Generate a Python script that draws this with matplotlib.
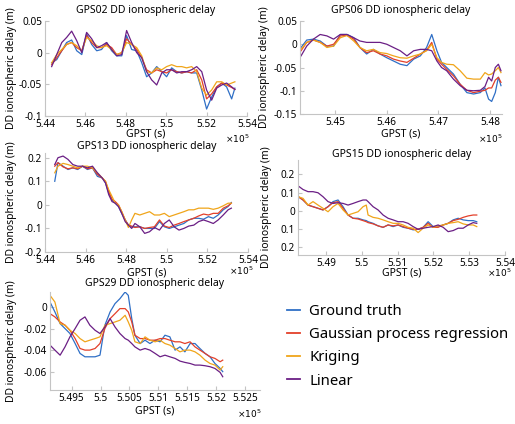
import matplotlib.pyplot as plt
from matplotlib.lines import Line2D

plt.rcParams['font.family'] = ['Noto Sans', 'DejaVu Sans']

# ---- data (GPST in s, DD ionospheric delay in m) ----
names = ['Ground truth', 'Gaussian process regression', 'Kriging', 'Linear']
colors = ['#2F6FC6', '#E3402A', '#F0A51A', '#6B1F85']

# GPS02
t02 = [544330, 544580, 544830, 545070, 545320, 545570, 545820, 546060, 546310, 546560,
       546800, 547050, 547300, 547550, 547800, 548040, 548290, 548540, 548790, 549030,
       549280, 549530, 549780, 550020, 550270, 550520, 550770, 551010, 551260, 551510,
       551760, 552000, 552250, 552500, 552750, 552990, 553240, 553400]
gt02 = [-0.016, -0.011, 0.003, 0.016, 0.020, 0.003, -0.003, 0.030, 0.013, 0.003,
        0.005, 0.016, 0.003, -0.005, -0.005, 0.027, 0.005, 0.003, -0.016, -0.038,
        -0.032, -0.022, -0.030, -0.038, -0.024, -0.030, -0.032, -0.030, -0.032, -0.032,
        -0.059, -0.089, -0.070, -0.054, -0.048, -0.054, -0.073, -0.056]
gpr02 = [-0.019, -0.008, 0.003, 0.013, 0.016, 0.008, 0.003, 0.027, 0.016, 0.008,
         0.008, 0.013, 0.008, -0.003, 0.000, 0.022, 0.013, 0.005, -0.008, -0.027,
         -0.032, -0.027, -0.030, -0.032, -0.027, -0.030, -0.032, -0.030, -0.032, -0.027,
         -0.043, -0.073, -0.065, -0.054, -0.048, -0.051, -0.055, -0.058]
kr02 = [-0.016, -0.003, 0.005, 0.013, 0.016, 0.011, 0.003, 0.024, 0.019, 0.011,
        0.008, 0.011, 0.005, -0.003, 0.000, 0.016, 0.013, 0.008, -0.005, -0.030,
        -0.032, -0.024, -0.027, -0.022, -0.019, -0.022, -0.022, -0.024, -0.022, -0.030,
        -0.056, -0.067, -0.059, -0.046, -0.046, -0.051, -0.048, -0.046]
lin02 = [-0.022, -0.003, 0.016, 0.024, 0.034, 0.019, 0.000, 0.032, 0.022, 0.008,
         0.011, 0.016, 0.005, -0.005, -0.003, 0.035, 0.016, 0.000, -0.008, -0.030,
         -0.043, -0.051, -0.032, -0.027, -0.027, -0.032, -0.030, -0.030, -0.027, -0.022,
         -0.030, -0.059, -0.075, -0.056, -0.051, -0.048, -0.054, -0.058]

# GPS06
t06 = [544340, 544450, 544580, 544710, 544840, 544970, 545100, 545230, 545360, 545480,
       545610, 545740, 545870, 546000, 546130, 546260, 546390, 546520, 546650, 546770,
       546870, 546970, 547060, 547160, 547290, 547420, 547550, 547680, 547810, 547900,
       547970, 548030, 548100, 548160, 548210]
gt06 = [-0.007, 0.009, 0.011, 0.007, -0.004, -0.004, 0.021, 0.021, 0.014, -0.007,
        -0.021, -0.011, -0.021, -0.029, -0.036, -0.043, -0.046, -0.032, -0.025, -0.007,
        0.021, -0.014, -0.039, -0.050, -0.064, -0.086, -0.104, -0.107, -0.104, -0.094,
        -0.118, -0.123, -0.104, -0.071, -0.089]
gpr06 = [-0.014, 0.004, 0.009, 0.004, -0.004, 0.000, 0.018, 0.019, 0.011, -0.007,
         -0.018, -0.014, -0.021, -0.025, -0.032, -0.036, -0.039, -0.030, -0.021, -0.013,
         0.004, -0.032, -0.043, -0.054, -0.068, -0.086, -0.099, -0.104, -0.101, -0.099,
         -0.094, -0.094, -0.077, -0.071, -0.082]
kr06 = [-0.011, 0.004, 0.009, 0.004, -0.007, -0.004, 0.014, 0.019, 0.007, -0.007,
        -0.014, -0.011, -0.018, -0.020, -0.025, -0.029, -0.030, -0.025, -0.021, -0.014,
        0.000, -0.029, -0.039, -0.043, -0.044, -0.057, -0.073, -0.075, -0.075, -0.061,
        -0.066, -0.064, -0.057, -0.050, -0.061]
lin06 = [-0.025, -0.004, 0.011, 0.021, 0.018, 0.011, 0.021, 0.021, 0.014, 0.007,
         0.004, 0.004, 0.004, 0.000, -0.007, -0.014, -0.025, -0.014, -0.011, -0.011,
         -0.014, -0.036, -0.050, -0.057, -0.075, -0.089, -0.099, -0.100, -0.099, -0.091,
         -0.071, -0.079, -0.050, -0.043, -0.057]

# GPS13
t13 = [544480, 544640, 544890, 545130, 545370, 545610, 545850, 546090, 546340, 546580,
       546820, 546980, 547140, 547300, 547460, 547620, 547780, 547950, 548110, 548270,
       548430, 548670, 548910, 549150, 549390, 549640, 549880, 550120, 550360, 550600,
       550840, 551080, 551330, 551570, 551810, 552050, 552290, 552530, 552780, 553020,
       553180]
gt13 = [0.100, 0.179, 0.164, 0.150, 0.157, 0.150, 0.164, 0.150, 0.157, 0.121,
        0.114, 0.093, 0.050, 0.021, 0.007, -0.007, -0.036, -0.064, -0.086, -0.093,
        -0.093, -0.093, -0.100, -0.100, -0.100, -0.071, -0.093, -0.100, -0.093, -0.086,
        -0.079, -0.064, -0.057, -0.057, -0.061, -0.050, -0.057, -0.043, -0.021, -0.007,
        0.010]
gpr13 = [0.164, 0.179, 0.161, 0.153, 0.157, 0.153, 0.164, 0.153, 0.157, 0.129,
         0.114, 0.100, 0.057, 0.024, 0.014, 0.000, -0.029, -0.064, -0.086, -0.090,
         -0.096, -0.093, -0.100, -0.096, -0.093, -0.064, -0.090, -0.096, -0.086, -0.079,
         -0.071, -0.064, -0.057, -0.047, -0.039, -0.043, -0.036, -0.036, -0.014, -0.004,
         0.007]
kr13 = [0.136, 0.164, 0.176, 0.171, 0.164, 0.157, 0.164, 0.164, 0.157, 0.136,
        0.114, 0.100, 0.064, 0.036, 0.007, 0.000, -0.029, -0.064, -0.096, -0.064,
        -0.036, -0.043, -0.036, -0.029, -0.043, -0.043, -0.036, -0.050, -0.043, -0.036,
        -0.029, -0.021, -0.021, -0.014, -0.014, -0.014, -0.019, -0.014, -0.004, 0.007,
        0.007]
lin13 = [0.171, 0.200, 0.207, 0.193, 0.171, 0.164, 0.164, 0.157, 0.164, 0.136,
         0.114, 0.093, 0.043, 0.014, 0.007, -0.007, -0.036, -0.071, -0.086, -0.100,
         -0.079, -0.093, -0.121, -0.114, -0.096, -0.107, -0.079, -0.064, -0.093, -0.107,
         -0.100, -0.090, -0.086, -0.071, -0.064, -0.071, -0.079, -0.064, -0.043, -0.021,
         -0.014]

# GPS15
t15 = [548220, 548350, 548490, 548630, 548770, 548910, 549050, 549190, 549330, 549470,
       549610, 549750, 549890, 550030, 550120, 550170, 550310, 550450, 550590, 550730,
       550870, 551010, 551150, 551290, 551430, 551570, 551710, 551850, 551990, 552130,
       552270, 552410, 552550, 552690, 552830, 552970, 553110, 553210]
gt15 = [0.077, 0.059, 0.031, 0.022, 0.013, 0.004, 0.022, 0.050, 0.059, 0.022,
        -0.024, -0.042, -0.042, -0.051, -0.055, -0.061, -0.070, -0.084, -0.092, -0.079,
        -0.088, -0.079, -0.092, -0.097, -0.106, -0.103, -0.092, -0.061, -0.088, -0.088,
        -0.079, -0.070, -0.051, -0.042, -0.051, -0.055, -0.055, -0.061]
gpr15 = [0.077, 0.059, 0.031, 0.022, 0.013, 0.004, 0.022, 0.044, 0.050, 0.013,
         -0.024, -0.042, -0.046, -0.055, -0.061, -0.066, -0.073, -0.084, -0.092, -0.079,
         -0.084, -0.079, -0.088, -0.097, -0.103, -0.103, -0.092, -0.070, -0.092, -0.092,
         -0.079, -0.070, -0.055, -0.048, -0.037, -0.029, -0.024, -0.024]
kr15 = [0.077, 0.068, 0.031, 0.050, 0.031, 0.013, -0.006, 0.022, 0.040, 0.004,
        -0.024, -0.015, -0.006, 0.022, 0.031, -0.024, -0.037, -0.042, -0.051, -0.061,
        -0.070, -0.070, -0.079, -0.092, -0.097, -0.121, -0.097, -0.079, -0.092, -0.084,
        -0.079, -0.070, -0.066, -0.061, -0.073, -0.079, -0.079, -0.088]
lin15 = [0.136, 0.117, 0.105, 0.105, 0.099, 0.077, 0.050, 0.040, 0.044, 0.040,
         0.031, 0.040, 0.050, 0.059, 0.059, 0.050, 0.022, 0.004, -0.024, -0.042,
         -0.051, -0.061, -0.061, -0.070, -0.088, -0.103, -0.097, -0.092, -0.088, -0.079,
         -0.092, -0.116, -0.110, -0.097, -0.097, -0.079, -0.066, -0.070]

# GPS29
t29 = [549125, 549210, 549300, 549385, 549470, 549560, 549645, 549730, 549815, 549905,
       549990, 550075, 550165, 550250, 550335, 550425, 550480, 550540, 550595, 550685,
       550770, 550855, 550945, 551030, 551115, 551200, 551290, 551375, 551460, 551550,
       551635, 551720, 551810, 551895, 551980, 552070, 552115]
gt29 = [0.0046, -0.0046, -0.0154, -0.0200, -0.0246, -0.0339, -0.0431, -0.0462, -0.0462, -0.0462,
        -0.0447, -0.0169, -0.0046, 0.0031, 0.0077, 0.0139, 0.0108, -0.0108, -0.0262, -0.0339,
        -0.0308, -0.0339, -0.0308, -0.0323, -0.0262, -0.0277, -0.0400, -0.0370, -0.0416, -0.0339,
        -0.0339, -0.0385, -0.0431, -0.0462, -0.0524, -0.0570, -0.0600]
gpr29 = [-0.0062, -0.0092, -0.0139, -0.0169, -0.0216, -0.0293, -0.0385, -0.0400, -0.0400, -0.0385,
         -0.0339, -0.0200, -0.0108, -0.0062, -0.0015, -0.0015, -0.0046, -0.0139, -0.0262, -0.0293,
         -0.0293, -0.0308, -0.0308, -0.0293, -0.0293, -0.0308, -0.0323, -0.0323, -0.0339, -0.0323,
         -0.0370, -0.0400, -0.0431, -0.0462, -0.0477, -0.0508, -0.0493]
kr29 = [0.0108, 0.0046, -0.0154, -0.0169, -0.0216, -0.0246, -0.0293, -0.0323, -0.0308, -0.0293,
        -0.0277, -0.0169, -0.0154, -0.0139, -0.0123, -0.0077, -0.0139, -0.0216, -0.0323, -0.0339,
        -0.0277, -0.0308, -0.0323, -0.0308, -0.0339, -0.0354, -0.0385, -0.0416, -0.0400, -0.0400,
        -0.0416, -0.0447, -0.0493, -0.0524, -0.0539, -0.0585, -0.0554]
lin29 = [-0.0354, -0.0400, -0.0447, -0.0370, -0.0277, -0.0200, -0.0123, -0.0092, -0.0169, -0.0216,
         -0.0246, -0.0185, -0.0108, -0.0185, -0.0246, -0.0293, -0.0308, -0.0339, -0.0370, -0.0400,
         -0.0385, -0.0400, -0.0431, -0.0462, -0.0447, -0.0462, -0.0477, -0.0502, -0.0514, -0.0524,
         -0.0539, -0.0539, -0.0545, -0.0554, -0.0570, -0.0607, -0.0647]

# ticks
xt_wide = [544000, 546000, 548000, 550000, 552000, 554000]
xl_wide = ['5.44', '5.46', '5.48', '5.5', '5.52', '5.54']
xt06 = [545000, 546000, 547000, 548000]
xl06 = ['5.45', '5.46', '5.47', '5.48']
xt15 = [549000, 550000, 551000, 552000, 553000, 554000]
xl15 = ['5.49', '5.5', '5.51', '5.52', '5.53', '5.54']
xt29 = [549500, 550000, 550500, 551000, 551500, 552000, 552500]
xl29 = ['5.495', '5.5', '5.505', '5.51', '5.515', '5.52', '5.525']
yt02 = [-0.1, -0.05, 0, 0.05]
yl02 = ['-0.1', '-0.05', '0', '0.05']
yt06 = [-0.15, -0.1, -0.05, 0, 0.05]
yl06 = ['-0.15', '-0.1', '-0.05', '0', '0.05']
yt13 = [-0.2, -0.1, 0, 0.1, 0.2]
yl13 = ['-0.2', '-0.1', '0', '0.1', '0.2']
yl15 = ['0.2', '0.1', '0', '0.1', '0.2']
yt29 = [-0.06, -0.04, -0.02, 0]
yl29 = ['-0.06', '-0.04', '-0.02', '0']

W, H = 515, 424
fig = plt.figure(figsize=(W / 100, H / 100), dpi=100)
grey = '#c4c4c4'


def panel(box, title, t, series, xlim, ylim, xt, xl, yt, yl,
          title_y, ylab_x, xlab_y, exp_y, exp_x):
    left, top, right, bottom = box
    w, h = right - left, bottom - top
    ax = fig.add_axes([left / W, 1 - bottom / H, w / W, h / H])
    for y, c in zip(series, colors):
        ax.plot(t, y, color=c, lw=0.9)
    ax.set_xlim(xlim)
    ax.set_ylim(ylim)
    ax.set_xticks(xt, xl)
    ax.set_yticks(yt, yl)
    for s in ['top', 'right']:
        ax.spines[s].set_visible(False)
    for s in ['left', 'bottom']:
        ax.spines[s].set_color(grey)
        ax.spines[s].set_linewidth(0.8)
    ax.tick_params(direction='in', length=3, width=0.8, color=grey,
                   labelsize=7.2, pad=2)
    ax.set_title(title, fontsize=7.5, pad=0, y=(bottom - title_y) / h, va='center')
    ax.set_ylabel('DD ionospheric delay (m)', fontsize=7.4)
    ax.yaxis.set_label_coords((ylab_x - left) / w, 0.5)
    ax.yaxis.label.set_va('center')
    ax.set_xlabel('GPST (s)', fontsize=7.5)
    ax.xaxis.set_label_coords(0.5, (bottom - xlab_y) / h)
    ax.xaxis.label.set_va('center')
    ax.text((exp_x - left) / w, (bottom - exp_y) / h, r'$\times10^5$',
            transform=ax.transAxes, ha='right', va='center', fontsize=6.5)


panel((45, 21, 247, 116), 'GPS02 DD ionospheric delay', t02,
      [gt02, gpr02, kr02, lin02], (544000, 554000), (-0.1, 0.05),
      xt_wide, xl_wide, yt02, yl02, 10, 12, 134, 139, 250)
panel((300, 21, 502, 114), 'GPS06 DD ionospheric delay', t06,
      [gt06, gpr06, kr06, lin06], (544320, 548230), (-0.15, 0.05),
      xt06, xl06, yt06, yl06, 10, 265, 134, 139, 503)
panel((45, 153, 248, 252), 'GPS13 DD ionospheric delay', t13,
      [gt13, gpr13, kr13, lin13], (544000, 554000), (-0.2, 0.22),
      xt_wide, xl_wide, yt13, yl13, 147, 12, 273, 271, 254)
panel((298, 160, 505, 255), 'GPS15 DD ionospheric delay', t15,
      [gt15, gpr15, kr15, lin15], (548210, 554000), (-0.245, 0.28),
      xt15, xl15, yt13, yl15, 155, 266, 273, 273, 512)
panel((50, 292, 260, 390), 'GPS29 DD ionospheric delay', t29,
      [gt29, gpr29, kr29, lin29], (549125, 552760), (-0.077, 0.0139),
      xt29, xl29, yt29, yl29, 284, 12, 411, 414, 262)

handles = [Line2D([], [], color=c, lw=1.3) for c in colors]
fig.legend(handles, names, loc='upper left',
           bbox_to_anchor=(287 / W, 1 - 304 / H), frameon=False, fontsize=10.7,
           handlelength=0.85, handletextpad=0.65, labelspacing=0.55,
           borderpad=0, borderaxespad=0)

fig.savefig('out.png', dpi=100)
